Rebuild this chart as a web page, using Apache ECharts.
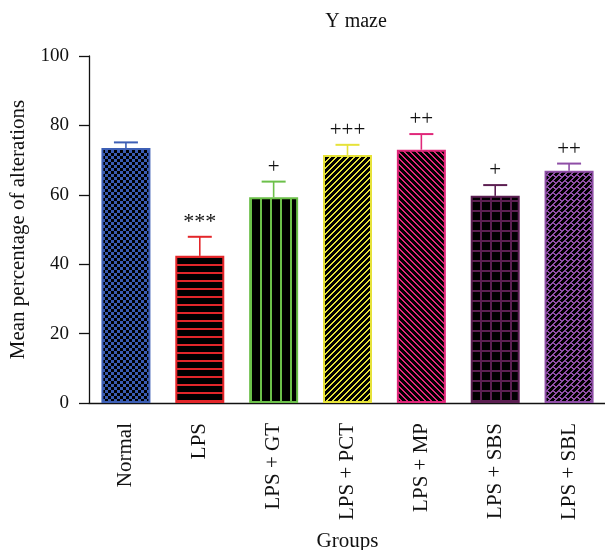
<!DOCTYPE html>
<html><head><meta charset="utf-8">
<script src="https://cdn.jsdelivr.net/npm/echarts@6/dist/echarts.min.js"></script>
<style>html,body{margin:0;padding:0;background:#fff}#c{width:605px;height:550px}</style>
</head><body><div id="c"></div>
<script>
const categories = ['Normal','LPS','LPS + GT','LPS + PCT','LPS + MP','LPS + SBS','LPS + SBL'];
const means = [73.5, 42.4, 59.3, 71.5, 73.0, 59.7, 66.9];
const errors = [1.6, 5.5, 4.5, 2.9, 4.5, 3.1, 2.1];
const marks = ['', '***', '+', '+++', '++', '+', '++'];
const yTicks = [0, 20, 40, 60, 80, 100];

const colors = ['#3d5fb5','#e3262a','#6cc04a','#e6e23a','#e0287a','#5c1f52','#8e4ea6'];

function tile(s, fn){
  const c=document.createElement('canvas'); c.width=s; c.height=s;
  const g=c.getContext('2d'); const im=g.createImageData(s,s);
  for(let y=0;y<s;y++)for(let x=0;x<s;x++){
    const col=fn(x,y); const i=(y*s+x)*4;
    im.data[i]=col[0];im.data[i+1]=col[1];im.data[i+2]=col[2];im.data[i+3]=255;
  }
  g.putImageData(im,0,0); return c;
}
function hex(h){return [parseInt(h.slice(1,3),16),parseInt(h.slice(3,5),16),parseInt(h.slice(5,7),16)];}
const K=[0,0,0];
const pats=[
  tile(6,(x,y)=>((Math.floor(x/3)+Math.floor(y/3))%2===0)?K:hex('#3a5cb2')),
  tile(8,(x,y)=>(y%8<2)?hex(colors[1]):K),
  tile(10,(x,y)=>(x%10<2)?hex(colors[2]):K),
  tile(6,(x,y)=>(((x+y)%6+6)%6<2)?hex(colors[3]):K),
  tile(6,(x,y)=>(((x-y)%6+6)%6<2)?hex(colors[4]):K),
  tile(10,(x,y)=>(x%10<2||y%10<2)?hex(colors[5]):K),
  tile(12,(x,y)=>{const u=x+y,v=((x-y)%12+12)%12;const b=Math.floor(u/6);
    if(u%6<2)return hex(colors[6]);
    const vv=(v+(b%2?6:0))%12; return vv<2?hex(colors[6]):K;})
];

const barData = means.map((v,i)=>({value:v,itemStyle:{color:{image:pats[i],repeat:'repeat'},borderColor:colors[i],borderWidth:2}}));
const errData = means.map((v,i)=>[i,v,v+errors[i],marks[i]]);

const font='"Liberation Serif", "DejaVu Serif", serif';
const chart=echarts.init(document.getElementById('c'),null,{renderer:'canvas'});
chart.setOption({
  animation:false,
  title:{text:'Y maze',left:351,top:7,textAlign:'center',textStyle:{fontFamily:font,fontWeight:'normal',fontSize:20,color:'#111'}},
  grid:{left:89,right:-1,top:56,bottom:147,containLabel:false,outerBoundsMode:'none'},
  xAxis:{type:'category',data:categories,
    axisLine:{lineStyle:{color:'#111',width:1.3}},
    axisTick:{alignWithLabel:true,length:10,lineStyle:{color:'#111',width:1.3}},
    axisLabel:{rotate:90,margin:20,fontFamily:font,fontSize:21,color:'#111'},
    name:'Groups',nameLocation:'middle',nameGap:128,nameTextStyle:{fontFamily:font,fontSize:21,color:'#111'}},
  yAxis:{type:'value',min:0,max:100,interval:20,
    axisLine:{show:true,lineStyle:{color:'#111',width:1.3}},
    axisTick:{show:true,length:10,lineStyle:{color:'#111',width:1.3}},
    splitLine:{show:false},
    axisLabel:{margin:20,fontFamily:font,fontSize:19,color:'#111',formatter:v=>yTicks.includes(v)?String(v):''},
    name:'Mean percentage of alterations',nameLocation:'middle',nameGap:60,nameTextStyle:{fontFamily:font,fontSize:21,color:'#111'}},
  series:[
    {type:'bar',data:barData,barWidth:49,z:2},
    {type:'custom',z:3,data:errData,
     renderItem:function(params,api){
       const i=api.value(0);
       const p0=api.coord([i,api.value(1)]);
       const p1=api.coord([i,api.value(2)]);
       const c=colors[i]; const hw=12;
       const ch=[
         {type:'line',shape:{x1:p0[0],y1:p0[1],x2:p1[0],y2:p1[1]},style:{stroke:c,lineWidth:1.6}},
         {type:'line',shape:{x1:p1[0]-hw,y1:p1[1],x2:p1[0]+hw,y2:p1[1]},style:{stroke:c,lineWidth:2}}
       ];
       const m=errData[params.dataIndex][3];
       if(m){ch.push({type:'text',x:p1[0],y:p1[1]-4,style:{text:m,fontFamily:font,fontSize:m[0]==='*'?22:21,fill:'#111',textAlign:'center',textVerticalAlign:'bottom'}});}
       return {type:'group',children:ch};
     }}
  ]
});
</script></body></html>
